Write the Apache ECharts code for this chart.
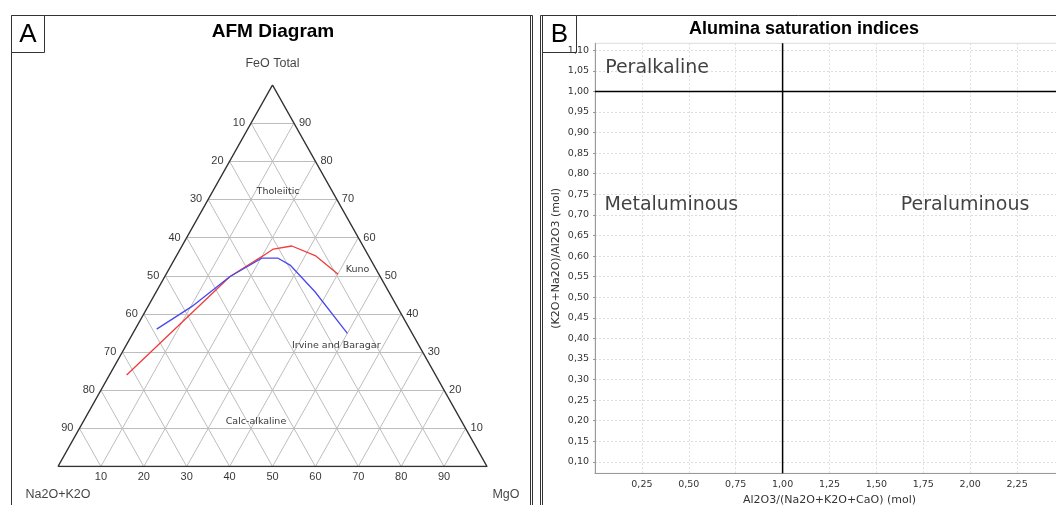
<!DOCTYPE html>
<html>
<head>
<meta charset="utf-8">
<script src="https://cdn.jsdelivr.net/npm/echarts@6/dist/echarts.min.js"></script>
<style>
  html, body { margin: 0; background: #fff; }
  #main { width: 1056px; height: 505px; }
</style>
</head>
<body>
<div id="main"></div>
<script>
// ---- A: AFM ternary, reference curves (FeO %, MgO %; alkalis = rest)
const ternTicks = [10, 20, 30, 40, 50, 60, 70, 80, 90];
const kunoF = [24, 49.8, 55, 57, 57.8, 55.3, 50.4];
const kunoM = [4, 15.2, 20, 21.7, 25.6, 32.3, 40.1];
const irvineF = [36, 41.9, 49.8, 54.6, 54.6, 52.8, 45.8, 34.9];
const irvineM = [5, 10.2, 15.2, 20.2, 24, 27.7, 37, 50];
const fieldNames = ['Tholeiitic', 'Kuno', 'Irvine and Baragar', 'Calc-alkaline'];
const fieldF = [72, 51.5, 31.7, 11.7];
const fieldM = [15.3, 41.3, 38.7, 40.3];

// ---- B: alumina saturation
const asiTicks = [0.25, 0.5, 0.75, 1.0, 1.25, 1.5, 1.75, 2.0, 2.25];
const aiTicks = [0.10, 0.15, 0.20, 0.25, 0.30, 0.35, 0.40, 0.45, 0.50, 0.55, 0.60,
                 0.65, 0.70, 0.75, 0.80, 0.85, 0.90, 0.95, 1.00, 1.05, 1.10];
const asiRange = [0, 2.5];
const aiRange = [0.072, 1.117];
const asiLimit = 1.0;
const aiLimit = 1.0;
const regionNames = ['Peralkaline', 'Metaluminous', 'Peraluminous'];
const regionX = [0.054, 0.05, 1.63];
const regionY = [1.057, 0.724, 0.724];

const H = Math.sqrt(3) / 2;
// ternary (FeO, MgO) -> cartesian
function tern(f, m) { return [m + f / 2, f * H]; }

let segs = [];
ternTicks.forEach(t => {
  segs.push({ coords: [tern(t, 0), tern(t, 100 - t)] });       // FeO = t
  segs.push({ coords: [tern(0, t), tern(100 - t, t)] });       // MgO = t
  segs.push({ coords: [tern(0, 100 - t), tern(100 - t, 0)] }); // alkali = t
});

const fmt = v => v.toFixed(2).replace('.', ',');
const numFont = 'Liberation Sans';
const hidden = { color: 'rgba(0,0,0,0)' };

let chart = echarts.init(document.getElementById('main'), null, { renderer: 'canvas' });

let option = {
  animation: false,
  backgroundColor: '#fff',
  title: [
    { text: 'AFM Diagram', left: 268, top: 17, textAlign: 'center',
      textStyle: { fontFamily: 'Liberation Sans', fontWeight: 'bold', fontSize: 19, color: '#000' } },
    { text: 'Alumina saturation indices', left: 799, top: 15, textAlign: 'center',
      textStyle: { fontFamily: 'Liberation Sans', fontWeight: 'bold', fontSize: 18, color: '#000' } }
  ],
  grid: [
    { left: 58, top: 85, width: 429, height: 381.5, outerBoundsMode: 'none', containLabel: false },
    { left: 595, top: 43.3, width: 469, height: 430, outerBoundsMode: 'none', containLabel: false,
      show: true, borderColor: '#ddd', borderWidth: 1 }
  ],
  xAxis: [
    { gridIndex: 0, type: 'value', min: 0, max: 100, show: false },
    { gridIndex: 1, type: 'value', min: asiRange[0], max: asiRange[1],
      name: 'Al2O3/(Na2O+K2O+CaO) (mol)', nameLocation: 'middle', nameGap: 19,
      nameTextStyle: { fontFamily: 'DejaVu Sans', fontSize: 11, color: '#333' },
      axisLine: { lineStyle: { color: '#999' } },
      axisTick: { show: false, customValues: asiTicks },
      axisLabel: { customValues: asiTicks, formatter: fmt, margin: 6,
        fontFamily: 'DejaVu Sans', fontSize: 9.5, color: '#333' },
      splitLine: { show: true, lineStyle: { color: '#ddd', type: [2, 2] } } }
  ],
  yAxis: [
    { gridIndex: 0, type: 'value', min: 0, max: 100 * H, show: false },
    { gridIndex: 1, type: 'value', min: aiRange[0], max: aiRange[1],
      name: '(K2O+Na2O)/Al2O3 (mol)', nameLocation: 'middle', nameGap: 33,
      nameTextStyle: { fontFamily: 'DejaVu Sans', fontSize: 11, color: '#333' },
      axisLine: { show: true, lineStyle: { color: '#999' } },
      axisTick: { show: true, length: 2, customValues: aiTicks, lineStyle: { color: '#999' } },
      axisLabel: { customValues: aiTicks, formatter: fmt, margin: 6,
        fontFamily: 'DejaVu Sans', fontSize: 9.5, color: '#333' },
      splitLine: { show: true, lineStyle: { color: '#ddd', type: [2, 2] } } }
  ],
  series: [
    { type: 'lines', coordinateSystem: 'cartesian2d', xAxisIndex: 0, yAxisIndex: 0,
      silent: true, data: segs, lineStyle: { color: '#bdbdbd', width: 1, opacity: 1 } },
    { type: 'line', xAxisIndex: 0, yAxisIndex: 0, symbol: 'none', silent: true,
      data: [tern(0, 0), tern(100, 0), tern(0, 100), tern(0, 0)],
      lineStyle: { color: '#333', width: 1.5 } },
    { name: 'Kuno', type: 'line', xAxisIndex: 0, yAxisIndex: 0, symbol: 'none',
      data: kunoF.map((f, i) => tern(f, kunoM[i])), lineStyle: { color: '#f03c3c', width: 1.3 } },
    { name: 'Irvine and Baragar', type: 'line', xAxisIndex: 0, yAxisIndex: 0, symbol: 'none',
      data: irvineF.map((f, i) => tern(f, irvineM[i])), lineStyle: { color: '#4848f0', width: 1.3 } },
    // tick labels on the three sides
    { type: 'scatter', xAxisIndex: 0, yAxisIndex: 0, symbolSize: 0, itemStyle: hidden, silent: true,
      data: ternTicks.map(t => ({ value: tern(t, 0), label: { formatter: String(100 - t) } })),
      label: { show: true, position: 'left', distance: 6, fontFamily: numFont, fontSize: 11, color: '#000' } },
    { type: 'scatter', xAxisIndex: 0, yAxisIndex: 0, symbolSize: 0, itemStyle: hidden, silent: true,
      data: ternTicks.map(t => ({ value: tern(t, 100 - t), label: { formatter: String(t) } })),
      label: { show: true, position: 'right', distance: 5, fontFamily: numFont, fontSize: 11, color: '#000' } },
    { type: 'scatter', xAxisIndex: 0, yAxisIndex: 0, symbolSize: 0, itemStyle: hidden, silent: true,
      data: ternTicks.map(t => ({ value: tern(0, t), label: { formatter: String(t) } })),
      label: { show: true, position: 'bottom', distance: 5, fontFamily: numFont, fontSize: 11, color: '#000' } },
    // apex names
    { type: 'scatter', xAxisIndex: 0, yAxisIndex: 0, symbolSize: 0, itemStyle: hidden, silent: true,
      label: { show: true, fontFamily: numFont, fontSize: 12.5, color: '#111' },
      data: [
        { value: tern(100, 0), label: { formatter: 'FeO Total', position: 'top', distance: 15 } },
        { value: tern(0, 0), label: { formatter: 'Na2O+K2O', position: 'inside', offset: [0, 28] } },
        { value: tern(0, 100), label: { formatter: 'MgO', position: 'inside', offset: [19, 28] } }
      ] },
    // field names
    { type: 'scatter', xAxisIndex: 0, yAxisIndex: 0, symbolSize: 0, itemStyle: hidden, silent: true,
      data: fieldNames.map((n, i) => ({ value: tern(fieldF[i], fieldM[i]), name: n,
        label: { position: (n === 'Kuno' || n === 'Irvine and Baragar') ? 'right' : 'inside' } })),
      label: { show: true, formatter: '{b}', distance: 0, fontFamily: 'DejaVu Sans', fontSize: 9.5, color: '#000' } },

    // ---- B
    { type: 'line', xAxisIndex: 1, yAxisIndex: 1, symbol: 'none', silent: true,
      data: [[asiRange[0], aiLimit], [asiRange[1], aiLimit]], lineStyle: { color: '#000', width: 1.5 } },
    { type: 'line', xAxisIndex: 1, yAxisIndex: 1, symbol: 'none', silent: true,
      data: [[asiLimit, aiRange[0]], [asiLimit, aiRange[1]]], lineStyle: { color: '#000', width: 1.5 } },
    { type: 'scatter', xAxisIndex: 1, yAxisIndex: 1, symbolSize: 0, itemStyle: hidden, silent: true,
      data: regionNames.map((n, i) => ({ value: [regionX[i], regionY[i]], name: n })),
      label: { show: true, formatter: '{b}', position: 'right', distance: 0,
        fontFamily: 'DejaVu Sans', fontSize: 19, color: '#111' } }
  ],
  graphic: [
    { type: 'rect', shape: { x: 11.5, y: 15.5, width: 521, height: 500 }, style: { fill: null, stroke: '#333', lineWidth: 1 } },
    { type: 'line', shape: { x1: 530.5, y1: 15.5, x2: 530.5, y2: 510 }, style: { stroke: '#333', lineWidth: 1 } },
    { type: 'rect', shape: { x: 540.5, y: 15.5, width: 530, height: 500 }, style: { fill: null, stroke: '#333', lineWidth: 1 } },
    { type: 'line', shape: { x1: 542.5, y1: 15.5, x2: 542.5, y2: 510 }, style: { stroke: '#333', lineWidth: 1 } },
    { type: 'rect', shape: { x: 11.5, y: 15.5, width: 33, height: 37 }, style: { fill: '#fff', stroke: '#333', lineWidth: 1 } },
    { type: 'text', x: 28, y: 35, style: { text: 'A', font: '26px Liberation Sans', fill: '#000',
      align: 'center', verticalAlign: 'middle', textAlign: 'center', textVerticalAlign: 'middle' } },
    { type: 'rect', shape: { x: 542.5, y: 15.5, width: 34, height: 37 }, style: { fill: '#fff', stroke: '#333', lineWidth: 1 } },
    { type: 'text', x: 559.5, y: 35, style: { text: 'B', font: '26px Liberation Sans', fill: '#000',
      align: 'center', verticalAlign: 'middle', textAlign: 'center', textVerticalAlign: 'middle' } }
  ]
};

chart.setOption(option);
</script>
</body>
</html>
